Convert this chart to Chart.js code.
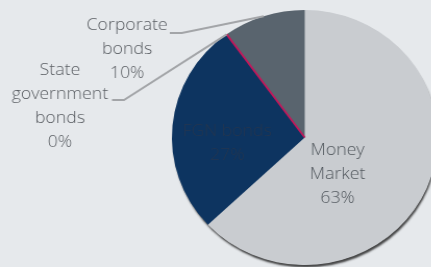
<!DOCTYPE html>
<html>
<head>
<meta charset="utf-8">
<script src="https://cdn.jsdelivr.net/npm/chart.js@4"></script>
<style>
  html, body { margin: 0; padding: 0; background: #e6e9ec; overflow: hidden; }
  #wrap { width: 431px; height: 267px; overflow: hidden; }
  /* the reference pie is slightly wider than tall */
  #chart { width: 448px; height: 267px; display: block; }
</style>
</head>
<body>
<div id="wrap"><canvas id="chart" width="430" height="267" style="width:448px;height:267px"></canvas></div>
<script>
// Dados
const categories = ['Money Market', 'FGN bonds', 'State government bonds', 'Corporate bonds'];
const labelLines = [['Money', 'Market'], ['FGN bonds'], ['State', 'government', 'bonds'], ['Corporate', 'bonds']];
const shares = [63, 27, 0, 10];

// Estilo
const sliceColors = ['#c9ccd0', '#0d3460', '#c2185b', '#59646e'];
const textColors  = ['#52585e', '#243650', '#5a5e63', '#5a5e63'];
const FONT = '300 17px "Open Sans", "Noto Sans", sans-serif';
const LINE_H = 24;

// posição dos rótulos: inside = deslocamento do centro do arco; outside = relativo ao centro da pizza
const labelPlace = [
  { inside: true, dx: -27, dy: -12.8 },
  { inside: true, dx: -11, dy: 0 },
  { inside: false, edge: 'start', tx: -235, ty: -67.5, elbow: [-173.5, -37.5], end: -185 },
  { inside: false, edge: 'mid',   tx: -170.5, ty: -112.5, elbow: [-118, -104.5], end: -129.5 }
];

// sombra por baixo da pizza
const pieShadow = {
  id: 'pieShadow',
  beforeDatasetsDraw(chart) {
    const arc = chart.getDatasetMeta(0).data[0];
    if (!arc) return;
    const { ctx } = chart;
    ctx.save();
    ctx.shadowColor = 'rgba(40,40,40,0.85)';
    ctx.shadowOffsetY = 3;
    ctx.shadowOffsetX = 1;
    ctx.shadowBlur = 2;
    ctx.fillStyle = sliceColors[0];
    ctx.beginPath();
    ctx.arc(arc.x, arc.y, arc.outerRadius - 0.5, 0, Math.PI * 2);
    ctx.fill();
    ctx.restore();
  }
};

// rótulos + linhas de chamada + fatia de 0%
const sliceLabels = {
  id: 'sliceLabels',
  afterDatasetsDraw(chart) {
    const { ctx } = chart;
    const arcs = chart.getDatasetMeta(0).data;
    ctx.save();
    ctx.font = FONT;
    ctx.textAlign = 'center';
    ctx.textBaseline = 'middle';

    arcs.forEach((arc, i) => {
      const place = labelPlace[i];
      const lines = labelLines[i].concat([shares[i] + '%']);

      // fatia de valor zero: só a borda
      if (shares[i] === 0) {
        ctx.strokeStyle = sliceColors[i];
        ctx.lineWidth = 1.8;
        ctx.beginPath();
        ctx.moveTo(arc.x, arc.y);
        ctx.lineTo(arc.x + Math.cos(arc.startAngle) * arc.outerRadius,
                   arc.y + Math.sin(arc.startAngle) * arc.outerRadius);
        ctx.stroke();
      }

      let x, y;
      if (place.inside) {
        const p = arc.tooltipPosition();
        x = p.x + place.dx;
        y = p.y + place.dy;
      } else {
        const ang = place.edge === 'mid' ? (arc.startAngle + arc.endAngle) / 2 : arc.startAngle;
        const ex = arc.x + Math.cos(ang) * arc.outerRadius;
        const ey = arc.y + Math.sin(ang) * arc.outerRadius;
        ctx.strokeStyle = '#a3a5a8';
        ctx.lineWidth = 2;
        ctx.beginPath();
        ctx.moveTo(ex, ey);
        ctx.lineTo(arc.x + place.elbow[0], arc.y + place.elbow[1]);
        ctx.lineTo(arc.x + place.end, arc.y + place.elbow[1]);
        ctx.stroke();
        x = arc.x + place.tx;
        y = arc.y + place.ty;
      }

      ctx.fillStyle = textColors[i];
      lines.forEach((t, k) => ctx.fillText(t, x, y + k * LINE_H));
    });
    ctx.restore();
  }
};

new Chart(document.getElementById('chart'), {
  type: 'pie',
  data: {
    labels: categories,
    datasets: [{
      data: shares,
      backgroundColor: sliceColors,
      borderWidth: 0
    }]
  },
  options: {
    responsive: false,
    animation: false,
    layout: { padding: { left: 165, right: 10, top: 10, bottom: 2 } },
    plugins: {
      legend: { display: false },
      tooltip: { enabled: false }
    }
  },
  plugins: [pieShadow, sliceLabels]
});
</script>
</body>
</html>
